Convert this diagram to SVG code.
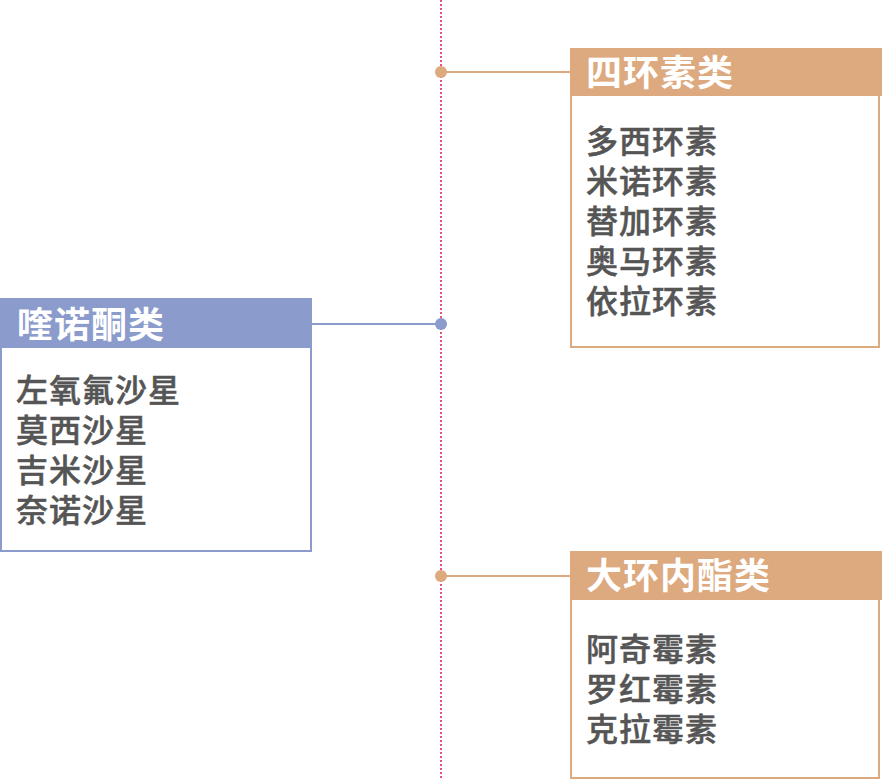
<svg xmlns="http://www.w3.org/2000/svg" width="882" height="780" viewBox="0 0 882 780">
<style>
.hd{font-family:"Noto Sans CJK SC","Noto Sans",sans-serif;font-size:36px;font-weight:bold;fill:#ffffff;letter-spacing:1px;}
.it{font-family:"Noto Sans CJK SC","Noto Sans",sans-serif;font-size:32px;font-weight:500;fill:#555555;stroke:#555555;stroke-width:0.5px;letter-spacing:1px;}
.or{stroke:#dda97f;}
.bl{stroke:#8a9bcc;}
</style>
<rect width="882" height="780" fill="#ffffff"/>
<g id="connectors">
<line x1="441" y1="0" x2="441" y2="780" stroke="#e6527a" stroke-width="2" stroke-dasharray="2 2"/>
<line x1="441" y1="72" x2="571" y2="72" class="or" stroke-width="2"/>
<circle cx="441" cy="72" r="6" fill="#dda97f"/>
<line x1="311" y1="324" x2="441" y2="324" class="bl" stroke-width="2"/>
<circle cx="441" cy="324" r="6" fill="#8a9bcc"/>
<line x1="441" y1="576" x2="571" y2="576" class="or" stroke-width="2"/>
<circle cx="441" cy="576" r="6" fill="#dda97f"/>
</g>
<g id="tetracyclines">
<rect x="571" y="49" width="308" height="298" fill="#ffffff" class="or" stroke-width="2"/>
<rect x="570" y="48" width="312" height="48" fill="#dda97f"/>
<text x="586" y="86" class="hd">四环素类</text>
<text class="it"><tspan x="586" y="153">多西环素</tspan><tspan x="586" y="193">米诺环素</tspan><tspan x="586" y="233">替加环素</tspan><tspan x="586" y="273">奥马环素</tspan><tspan x="586" y="313">依拉环素</tspan></text>
</g>
<g id="quinolones">
<rect x="1" y="299" width="310" height="252" fill="#ffffff" class="bl" stroke-width="2"/>
<rect x="0" y="298" width="312" height="50" fill="#8a9bcc"/>
<text x="17" y="338" class="hd">喹诺酮类</text>
<text class="it"><tspan x="16" y="402">左氧氟沙星</tspan><tspan x="16" y="442">莫西沙星</tspan><tspan x="16" y="482">吉米沙星</tspan><tspan x="16" y="522">奈诺沙星</tspan></text>
</g>
<g id="macrolides">
<rect x="571" y="552" width="308" height="226" fill="#ffffff" class="or" stroke-width="2"/>
<rect x="570" y="551" width="312" height="49" fill="#dda97f"/>
<text x="586" y="589" class="hd">大环内酯类</text>
<text class="it"><tspan x="586" y="661">阿奇霉素</tspan><tspan x="586" y="701">罗红霉素</tspan><tspan x="586" y="741">克拉霉素</tspan></text>
</g>
</svg>
